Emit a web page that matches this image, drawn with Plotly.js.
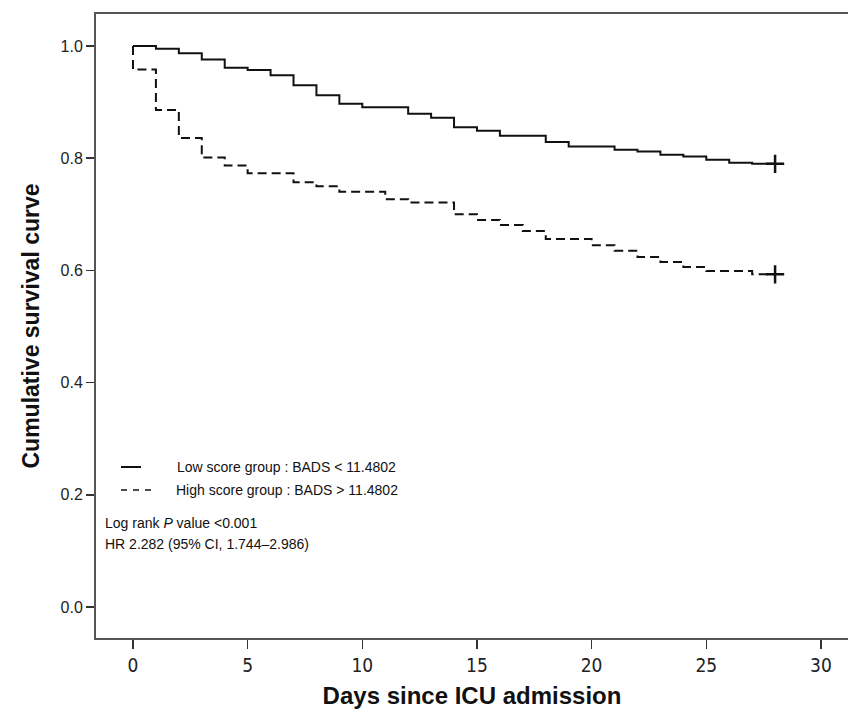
<!DOCTYPE html>
<html>
<head>
<meta charset="utf-8">
<script src="https://cdn.plot.ly/plotly-3.0.1.min.js"></script>
<style>html,body{margin:0;padding:0;background:#fff;}#chart{width:848px;height:711px;}</style>
</head>
<body>
<div id="chart"></div>
<script>
// Low score group (solid) – step times (days) and survival
var lowDays = [0, 1, 2, 3, 4, 5, 6, 7, 8, 9, 10, 12, 13, 14, 15, 16, 18, 19, 21, 22, 23, 24, 25, 26, 27, 28];
var lowSurv = [1.0, 0.995, 0.987, 0.976, 0.961, 0.957, 0.948, 0.930, 0.912, 0.897, 0.891, 0.879, 0.872, 0.855, 0.849, 0.840, 0.829, 0.821, 0.815, 0.812, 0.806, 0.803, 0.797, 0.792, 0.790, 0.790];
// High score group (dashed)
var highDays = [0, 0, 1, 2, 3, 4, 5, 7, 8, 9, 11, 12, 14, 15, 16, 17, 18, 20, 21, 22, 23, 24, 25, 27, 28];
var highSurv = [1.0, 0.958, 0.886, 0.836, 0.801, 0.787, 0.773, 0.757, 0.750, 0.740, 0.727, 0.721, 0.700, 0.690, 0.681, 0.670, 0.656, 0.645, 0.635, 0.624, 0.615, 0.606, 0.599, 0.593, 0.593];
// Censoring marks at end of follow-up
var censorDays = [28, 28];
var censorSurv = [0.790, 0.593];

var xTicks = [0, 5, 10, 15, 20, 25, 30];
var yTicks = [0.0, 0.2, 0.4, 0.6, 0.8, 1.0];

var legendLow = "Low score group : BADS < 11.4802";
var legendHigh = "High score group : BADS > 11.4802";
var statLine1 = "Log rank <i>P</i> value <0.001";
var statLine2 = "HR 2.282 (95% CI, 1.744\u20132.986)";

var traces = [
  {x: lowDays, y: lowSurv, mode: 'lines', line: {shape: 'hv', color: '#111', width: 2}, showlegend: false, hoverinfo: 'skip'},
  {x: highDays, y: highSurv, mode: 'lines', line: {shape: 'hv', color: '#111', width: 2, dash: '9px,5px'}, showlegend: false, hoverinfo: 'skip'},
  {x: censorDays, y: censorSurv, mode: 'markers', marker: {symbol: 'cross-thin', size: 13, line: {color: '#111', width: 2.5}}, showlegend: false, hoverinfo: 'skip'}
];

var W = 752, H = 624, L = 96, B = 638;
function px(x) { return (x - L) / W; }
function py(y) { return (B - y) / H; }

var txtFont = {family: 'Liberation Sans, Arial, sans-serif', size: 14, color: '#111'};

var layout = {
  width: 848, height: 711,
  margin: {l: 96, r: 0, t: 14, b: 73, pad: 0},
  paper_bgcolor: '#fff', plot_bgcolor: '#fff',
  showlegend: false,
  xaxis: {
    range: [-1.613, 31.18], tickvals: xTicks, ticktext: xTicks.map(String),
    ticks: 'outside', ticklen: 9, tickwidth: 1.5, tickcolor: '#333',
    showline: true, linecolor: '#555', linewidth: 2, mirror: true,
    showgrid: false, zeroline: false,
    tickfont: {family: 'Liberation Sans Narrow, DejaVu Sans Condensed, Arial, sans-serif', size: 19, color: '#222'},
    title: {text: '<b>Days since ICU admission</b>', font: {family: 'Liberation Sans, Arial, sans-serif', size: 24, color: '#111'}, standoff: 12}
  },
  yaxis: {
    range: [-0.0553, 1.057], tickvals: yTicks, tickformat: '.1f',
    ticks: 'outside', ticklen: 8, tickwidth: 1.5, tickcolor: '#333',
    showline: true, linecolor: '#555', linewidth: 2,
    showgrid: false, zeroline: false,
    tickfont: {family: 'Liberation Sans, Arial, sans-serif', size: 16, color: '#222'},
    title: {text: '<b>Cumulative survival curve</b>', font: {family: 'Liberation Sans, Arial, sans-serif', size: 23, color: '#111'}, standoff: 14}
  },
  shapes: [
    {type: 'line', xref: 'paper', yref: 'paper', x0: px(121), x1: px(141), y0: py(467), y1: py(467), line: {color: '#111', width: 2}},
    {type: 'line', xref: 'paper', yref: 'paper', x0: px(121), x1: px(157), y0: py(490), y1: py(490), line: {color: '#111', width: 1.5, dash: '6px,6px'}}
  ],
  annotations: [
    {xref: 'paper', yref: 'paper', x: px(175), y: py(467), xanchor: 'left', yanchor: 'middle', text: legendLow, showarrow: false, font: txtFont},
    {xref: 'paper', yref: 'paper', x: px(174), y: py(490), xanchor: 'left', yanchor: 'middle', text: legendHigh, showarrow: false, font: txtFont},
    {xref: 'paper', yref: 'paper', x: px(103), y: py(523), xanchor: 'left', yanchor: 'middle', text: statLine1, showarrow: false, font: txtFont},
    {xref: 'paper', yref: 'paper', x: px(103), y: py(544), xanchor: 'left', yanchor: 'middle', text: statLine2, showarrow: false, font: txtFont}
  ]
};

Plotly.newPlot('chart', traces, layout, {displayModeBar: false, staticPlot: true});
</script>
</body>
</html>
